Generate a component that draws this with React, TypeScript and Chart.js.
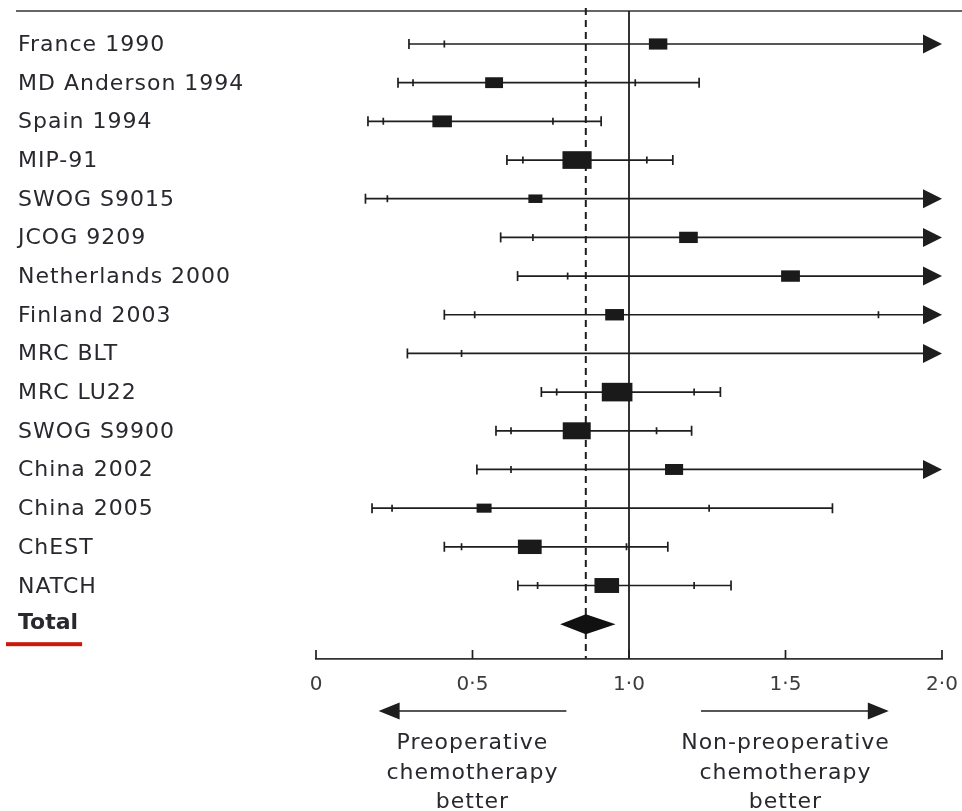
import { useEffect, useRef } from "react";
import { Chart, registerables } from "chart.js";

Chart.register(...registerables);

// ---- data (hazard ratios) ----
const studies = [
  "France 1990",
  "MD Anderson 1994",
  "Spain 1994",
  "MIP-91",
  "SWOG S9015",
  "JCOG 9209",
  "Netherlands 2000",
  "Finland 2003",
  "MRC BLT",
  "MRC LU22",
  "SWOG S9900",
  "China 2002",
  "China 2005",
  "ChEST",
  "NATCH",
];
// point estimates (null = not shown)
const estimates = [1.093, 0.569, 0.403, 0.834, 0.701, 1.19, 1.516, 0.954, null, 0.962, 0.833, 1.144, 0.537, 0.683, 0.929];
// outer (99%) and inner (95%) confidence limits; null = beyond the axis (arrow)
const lower99 = [0.297, 0.262, 0.166, 0.61, 0.158, 0.59, 0.644, 0.41, 0.292, 0.72, 0.575, 0.514, 0.179, 0.41, 0.645];
const lower95 = [0.41, 0.31, 0.215, 0.661, 0.228, 0.693, 0.804, 0.507, 0.465, 0.769, 0.623, 0.623, 0.243, 0.465, 0.708];
const upper95 = [null, 1.02, 0.757, 1.057, null, null, null, 1.797, null, 1.208, 1.088, null, 1.256, 0.992, 1.208];
const upper99 = [null, 1.224, 0.911, 1.14, null, null, null, null, null, 1.292, 1.2, null, 1.65, 1.124, 1.326];
// study weights (%), drive the box sizes
const weights = [5.0, 4.7, 5.6, 12.5, 2.9, 5.1, 5.2, 5.2, 0, 13.8, 11.5, 4.8, 3.3, 8.3, 8.9];

const totalLabel = "Total";
const totalEstimate = 0.862;
const totalLower = 0.78;
const totalUpper = 0.957;

const xTicks = [0, 0.5, 1.0, 1.5, 2.0];
const nullValue = 1.0;

const leftNote = ["Preoperative", "chemotherapy", "better"];
const rightNote = ["Non-preoperative", "chemotherapy", "better"];
const leftNoteCenter = 0.5;
const rightNoteCenter = 1.5;
const leftArrow = [0.8, 0.2];
const rightArrow = [1.23, 1.83];

const FONT = '"DejaVu Sans", sans-serif';
const INK = "#1e1e1e";
const TEXT = "#28282e";

function fmtTick(v: number) {
  return v === 0 ? "0" : v.toFixed(1).replace(".", "\u00b7");
}

export default function App() {
  const ref = useRef<HTMLCanvasElement>(null);

  useEffect(() => {
    const canvas = ref.current;
    if (!canvas) return;

    const forestPlugin = {
      id: "forest",
      afterDraw(chart: any) {
        const { ctx, chartArea, scales } = chart;
        const xs = scales.x;
        const ys = scales.y;
        const X = (v: number) => xs.getPixelForValue(v);
        const Y = (i: number) => ys.getPixelForValue(i);
        const top = chartArea.top;
        const bottom = chartArea.bottom;
        const xMax = xs.max;

        ctx.save();
        ctx.strokeStyle = INK;
        ctx.fillStyle = INK;
        ctx.lineCap = "butt";

        // top rule
        ctx.lineWidth = 1.6;
        ctx.strokeStyle = "#333";
        ctx.beginPath();
        ctx.moveTo(16, top);
        ctx.lineTo(chart.width, top);
        ctx.stroke();

        // upward tick marks on the x axis
        ctx.strokeStyle = INK;
        ctx.lineWidth = 1.7;
        xs.ticks.forEach((t: any) => {
          const x = X(t.value);
          ctx.beginPath();
          ctx.moveTo(x, bottom);
          ctx.lineTo(x, bottom - 9);
          ctx.stroke();
        });

        // line of no effect
        ctx.lineWidth = 1.8;
        ctx.beginPath();
        ctx.moveTo(X(nullValue), top);
        ctx.lineTo(X(nullValue), bottom);
        ctx.stroke();

        // dashed pooled estimate line
        ctx.save();
        ctx.lineWidth = 2;
        ctx.setLineDash([7, 5]);
        ctx.beginPath();
        ctx.moveTo(X(totalEstimate), top - 3);
        ctx.lineTo(X(totalEstimate), bottom);
        ctx.stroke();
        ctx.restore();

        // study rows
        studies.forEach((name, i) => {
          const y = Y(i);
          const lo = lower99[i];
          const hi = upper99[i];
          const xl = X(lo);
          const arrow = hi == null;
          const xr = arrow ? X(xMax) - 18 : X(hi as number);
          ctx.lineWidth = 1.7;
          ctx.beginPath();
          ctx.moveTo(xl, y);
          ctx.lineTo(xr, y);
          ctx.stroke();
          // outer caps
          ctx.beginPath();
          ctx.moveTo(xl, y - 5);
          ctx.lineTo(xl, y + 5);
          if (!arrow) {
            ctx.moveTo(xr, y - 5);
            ctx.lineTo(xr, y + 5);
          }
          ctx.stroke();
          // inner ticks (95%)
          ctx.beginPath();
          const l95 = lower95[i];
          ctx.moveTo(X(l95), y - 3.5);
          ctx.lineTo(X(l95), y + 3.5);
          const u95 = upper95[i];
          if (u95 != null) {
            ctx.moveTo(X(u95), y - 3.5);
            ctx.lineTo(X(u95), y + 3.5);
          }
          ctx.stroke();
          if (arrow) {
            const tip = X(xMax);
            ctx.beginPath();
            ctx.moveTo(tip, y);
            ctx.lineTo(tip - 19, y - 9.5);
            ctx.lineTo(tip - 19, y + 9.5);
            ctx.closePath();
            ctx.fill();
          }
          // box
          const est = estimates[i];
          if (est != null && weights[i] > 0) {
            const h = Math.sqrt(weights[i] * 25);
            const w = h * 1.65;
            ctx.fillStyle = "#1a1a1a";
            ctx.fillRect(X(est) - w / 2, y - h / 2, w, h);
            ctx.fillStyle = INK;
          }
          // label
          ctx.fillStyle = TEXT;
          ctx.font = `22px ${FONT}`;
          (ctx as any).letterSpacing = "1px";
          ctx.textAlign = "left";
          ctx.textBaseline = "alphabetic";
          ctx.fillText(name, 18, y + 7);
          ctx.fillStyle = INK;
        });

        // total row
        const ty = Y(studies.length);
        ctx.fillStyle = "#111";
        ctx.beginPath();
        ctx.moveTo(X(totalLower), ty);
        ctx.lineTo(X(totalEstimate), ty - 10);
        ctx.lineTo(X(totalUpper), ty);
        ctx.lineTo(X(totalEstimate), ty + 10);
        ctx.closePath();
        ctx.fill();
        ctx.fillStyle = TEXT;
        ctx.font = `bold 22px ${FONT}`;
        (ctx as any).letterSpacing = "0px";
        ctx.textAlign = "left";
        ctx.fillText(totalLabel, 18, ty + 5);
        const tw = ctx.measureText(totalLabel).width;
        ctx.fillStyle = "#c8190a";
        ctx.fillRect(6, ty + 18, tw + 16, 4);

        // direction arrows
        const ay = bottom + 52;
        ctx.strokeStyle = INK;
        ctx.fillStyle = INK;
        ctx.lineWidth = 1.7;
        const drawArrow = (from: number, to: number) => {
          const x0 = X(from);
          const x1 = X(to);
          const dir = Math.sign(x1 - x0);
          ctx.beginPath();
          ctx.moveTo(x0, ay);
          ctx.lineTo(x1 - dir * 18, ay);
          ctx.stroke();
          ctx.beginPath();
          ctx.moveTo(x1, ay);
          ctx.lineTo(x1 - dir * 21, ay - 8.5);
          ctx.lineTo(x1 - dir * 21, ay + 8.5);
          ctx.closePath();
          ctx.fill();
        };
        drawArrow(leftArrow[0], leftArrow[1]);
        drawArrow(rightArrow[0], rightArrow[1]);

        // notes under arrows
        ctx.fillStyle = TEXT;
        ctx.font = `22px ${FONT}`;
        (ctx as any).letterSpacing = "1px";
        ctx.textAlign = "center";
        leftNote.forEach((line, k) => {
          ctx.fillText(line, X(leftNoteCenter), bottom + 90 + k * 29.5);
        });
        rightNote.forEach((line, k) => {
          ctx.fillText(line, X(rightNoteCenter), bottom + 90 + k * 29.5);
        });
        (ctx as any).letterSpacing = "0px";
        ctx.restore();
      },
    };

    const chart = new Chart(canvas, {
      type: "scatter",
      data: {
        datasets: [
          {
            label: "Estimates",
            data: estimates
              .map((e, i) => (e == null ? null : { x: e, y: i }))
              .filter((p) => p != null) as any,
            pointRadius: 0,
            showLine: false,
          },
        ],
      },
      options: {
        responsive: false,
        animation: false,
        devicePixelRatio: 1,
        events: [],
        layout: { padding: { left: 316, right: 20, top: 11, bottom: 0 } },
        plugins: {
          legend: { display: false },
          tooltip: { enabled: false },
          title: { display: false },
        },
        scales: {
          x: {
            type: "linear",
            min: 0,
            max: 2,
            position: "bottom",
            afterBuildTicks: (scale: any) => {
              scale.ticks = xTicks.map((v) => ({ value: v }));
            },
            afterFit: (scale: any) => {
              scale.height = 152;
              scale.paddingLeft = 0;
              scale.paddingRight = 0;
            },
            grid: { display: false, drawTicks: false },
            border: { display: true, color: "#333", width: 1.7 },
            ticks: {
              callback: (v: any) => fmtTick(Number(v)),
              font: { family: "DejaVu Sans", size: 20 },
              color: "#3c3c40",
              padding: 14,
              maxRotation: 0,
              autoSkip: false,
            },
          },
          y: {
            type: "linear",
            display: false,
            reverse: true,
            min: -0.853,
            max: 15.9,
          },
        },
      },
      plugins: [forestPlugin],
    } as any);

    return () => chart.destroy();
  }, []);

  return (
    <div style={{ position: "absolute", left: 0, top: 0, width: 962, height: 811, background: "#fff" }}>
      <canvas ref={ref} width={962} height={811} style={{ display: "block" }} />
    </div>
  );
}
